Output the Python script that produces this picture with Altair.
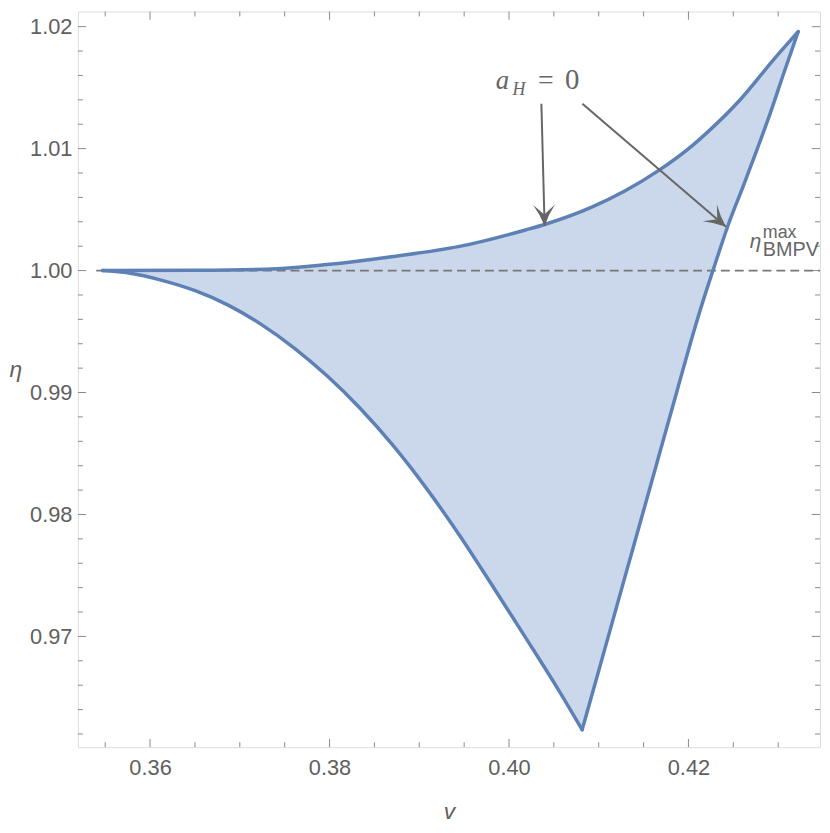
import math
import altair as alt
import pandas as pd

# ---------------- data ----------------
upper_v = [0.35470, 0.36538, 0.37422, 0.37970, 0.38712, 0.39448, 0.40184, 0.40406,
           0.40922, 0.41290, 0.41657, 0.42063, 0.42210, 0.42579, 0.42947, 0.43223]
upper_eta = [1.00000, 1.00002, 1.00015, 1.00049, 1.00116, 1.00198, 1.00333, 1.00380,
             1.00520, 1.00652, 1.00815, 1.01037, 1.01133, 1.01403, 1.01728, 1.01959]

right_v = [0.40815, 0.40978, 0.41287, 0.41576, 0.41875, 0.42062, 0.42186, 0.42273,
           0.42444, 0.42616, 0.42765, 0.42914, 0.43063, 0.43223]
right_eta = [0.96235, 0.96661, 0.97474, 0.98232, 0.99019, 0.99507, 0.99805, 1.00000,
             1.00376, 1.00702, 1.00994, 1.01295, 1.01620, 1.01959]

lower_v = [0.35470, 0.35765, 0.36133, 0.36502, 0.36870, 0.37238, 0.37607, 0.37975,
           0.38343, 0.38712, 0.39080, 0.39448, 0.39817, 0.40185, 0.40553, 0.40815]
lower_eta = [1.00000, 0.99980, 0.99920, 0.99835, 0.99717, 0.99559, 0.99365, 0.99135,
             0.98869, 0.98562, 0.98214, 0.97830, 0.97414, 0.96990, 0.96560, 0.96235]

x_major = [0.36, 0.38, 0.40, 0.42]
x_minor = [0.355, 0.365, 0.37, 0.375, 0.385, 0.39, 0.395, 0.405, 0.41, 0.415, 0.425, 0.43]
y_major = [0.97, 0.98, 0.99, 1.00, 1.01, 1.02]
y_minor = [0.962, 0.964, 0.966, 0.968, 0.972, 0.974, 0.976, 0.978, 0.982, 0.984, 0.986,
           0.988, 0.992, 0.994, 0.996, 0.998, 1.002, 1.004, 1.006, 1.008, 1.012, 1.014,
           1.016, 1.018]

dashed_v = [0.3540, 0.434663]
dashed_eta = [1.0, 1.0]

arrow_start_v = [0.40361, 0.40818]
arrow_start_eta = [1.01368, 1.01367]
arrow_end_v = [0.40397, 0.42418]
arrow_end_eta = [1.00365, 1.00360]

# ---------------- layout ----------------
X_DOMAIN = [0.351956, 0.434663]
Y_DOMAIN = [0.960919, 1.021244]
W, H = 748.5, 742
GRAY = "#606060"
FRAME = "#8a8a8a"
BLUE = "#5e81b5"
FILL = "#cbd7ea"

xs = alt.Scale(domain=X_DOMAIN, nice=False, zero=False)
ys = alt.Scale(domain=Y_DOMAIN, nice=False, zero=False)

x_axis = alt.Axis(values=x_major, format=".2f", title="v", grid=False, domain=False,
                  ticks=False, labelPadding=11, labelFont="Liberation Sans",
                  labelFontSize=22, labelColor=GRAY, titleFont="Liberation Sans",
                  titleFontSize=23, titleFontStyle="italic", titleFontWeight="normal",
                  titleColor=GRAY, titleX=W / 2, titleY=72, titleBaseline="alphabetic",
                  titleAlign="center")
y_axis = alt.Axis(values=y_major, format=".2f", title="η", grid=False, domain=False,
                  ticks=False, labelPadding=6, labelFont="Liberation Sans",
                  labelFontSize=22, labelColor=GRAY, titleFont="Liberation Sans",
                  titleFontSize=23, titleFontStyle="italic", titleFontWeight="normal",
                  titleColor=GRAY, titleAngle=0, titleX=-63, titleY=368,
                  titleBaseline="alphabetic", titleAlign="center")


def X(field="v"):
    return alt.X(f"{field}:Q", scale=xs, axis=x_axis)


def Y(field="eta"):
    return alt.Y(f"{field}:Q", scale=ys, axis=y_axis)


# polygon: upper (start->peak), right (peak->tip), lower (tip->start)
poly_v = upper_v + right_v[::-1][1:] + lower_v[::-1][1:]
poly_eta = upper_eta + right_eta[::-1][1:] + lower_eta[::-1][1:]
poly = pd.DataFrame({"v": poly_v, "eta": poly_eta, "o": list(range(len(poly_v)))})

fill_layer = alt.Chart(poly).mark_line(fill=FILL, strokeOpacity=0, interpolate="linear").encode(
    x=X(), y=Y(), order="o:Q")

curve_layers = []
for cv, ce in [(upper_v, upper_eta), (right_v, right_eta), (lower_v, lower_eta)]:
    d = pd.DataFrame({"v": cv, "eta": ce})
    curve_layers.append(alt.Chart(d).mark_line(stroke=BLUE, strokeWidth=3.5,
                                               interpolate="monotone",
                                               strokeCap="round").encode(x=X(), y=Y()))

dash_df = pd.DataFrame({"v": [dashed_v[0]], "v2": [dashed_v[1]], "eta": [dashed_eta[0]]})
dash_layer = alt.Chart(dash_df).mark_rule(color="#777777", strokeWidth=1.8,
                                          strokeDash=[9, 5]).encode(
    x=X(), x2="v2:Q", y=Y())

# ticks (inward, on all four sides)
tick_layers = []
for vals, L in [(x_major, 8.3), (x_minor, 5)]:
    d = pd.DataFrame({"v": vals})
    tick_layers.append(alt.Chart(d).mark_rule(color=FRAME, strokeWidth=1).encode(
        x=X(), y=alt.value(H), y2=alt.value(H - L)))
    tick_layers.append(alt.Chart(d).mark_rule(color=FRAME, strokeWidth=1).encode(
        x=X(), y=alt.value(0), y2=alt.value(L)))
for vals, L in [(y_major, 8.3), (y_minor, 5)]:
    d = pd.DataFrame({"eta": vals})
    tick_layers.append(alt.Chart(d).mark_rule(color=FRAME, strokeWidth=1).encode(
        y=Y(), x=alt.value(0), x2=alt.value(L)))
    tick_layers.append(alt.Chart(d).mark_rule(color=FRAME, strokeWidth=1).encode(
        y=Y(), x=alt.value(W), x2=alt.value(W - L)))

# arrows
ppv = W / (X_DOMAIN[1] - X_DOMAIN[0])
ppe = H / (Y_DOMAIN[1] - Y_DOMAIN[0])
angles = []
for sv, se, ev, ee in zip(arrow_start_v, arrow_start_eta, arrow_end_v, arrow_end_eta):
    dx = (ev - sv) * ppv
    dy = -(ee - se) * ppe  # screen, down positive
    angles.append(math.degrees(math.atan2(dx, -dy)) % 360)

arrow_df = pd.DataFrame({"v": arrow_start_v, "eta": arrow_start_eta,
                         "v2": arrow_end_v, "eta2": arrow_end_eta})
shaft_layer = alt.Chart(arrow_df).mark_rule(color="#666666", strokeWidth=2).encode(
    x=X(), y=Y(), x2="v2:Q", y2="eta2:Q")

head_df = pd.DataFrame({"v": arrow_end_v, "eta": arrow_end_eta, "ang": angles})
HEAD = "M0,0 Q0.35,1.0 1,1.95 L0,1.05 L-1,1.95 Q-0.35,1.0 0,0 Z"
head_layer = alt.Chart(head_df).mark_point(shape=HEAD, size=121 * 4, filled=True,
                                           color="#666666", opacity=1, strokeWidth=0).encode(
    x=X(), y=Y(), angle=alt.Angle("ang:Q", scale=None))

# annotation a_H = 0
ann_parts = ["a", "H", "=", "0"]
ann_v = [0.39853, 0.40038, 0.40322, 0.40625]
ann_eta = [1.01490, 1.01436, 1.01490, 1.01490]
ann_size = [27, 18, 28, 29]
ann_style = ["italic", "italic", "normal", "normal"]
ann_layers = []
for t, av, ae, sz, st in zip(ann_parts, ann_v, ann_eta, ann_size, ann_style):
    d = pd.DataFrame({"v": [av], "eta": [ae], "t": [t]})
    ann_layers.append(alt.Chart(d).mark_text(align="left", baseline="alphabetic",
                                             font="Liberation Serif", fontSize=sz,
                                             fontStyle=st, color="#666666").encode(
        x=X(), y=Y(), text="t:N"))

# eta_BMPV^max label
lab_parts = ["η", "max", "BMPV"]
lab_v = [0.42682, 0.42829, 0.42829]
lab_eta = [1.00189, 1.00264, 1.00116]
lab_size = [21, 18, 20]
lab_style = ["italic", "normal", "normal"]
lab_layers = []
for t, av, ae, sz, st in zip(lab_parts, lab_v, lab_eta, lab_size, lab_style):
    d = pd.DataFrame({"v": [av], "eta": [ae], "t": [t]})
    lab_layers.append(alt.Chart(d).mark_text(align="left", baseline="alphabetic",
                                             font="Liberation Sans", fontSize=sz,
                                             fontStyle=st, color="#666666", clip=True).encode(
        x=X(), y=Y(), text="t:N"))

chart = alt.layer(
    fill_layer, dash_layer, *curve_layers, *tick_layers, shaft_layer, head_layer,
    *ann_layers, *lab_layers
).properties(
    width=W, height=H,
    autosize=alt.AutoSizeParams(type="none"),
    padding={"left": 70.5, "top": 0, "right": 2, "bottom": 78},
).configure_view(stroke=FRAME, strokeWidth=1).configure(background="white")

chart.save("out.html", embed_options={"renderer": "svg", "actions": False})
